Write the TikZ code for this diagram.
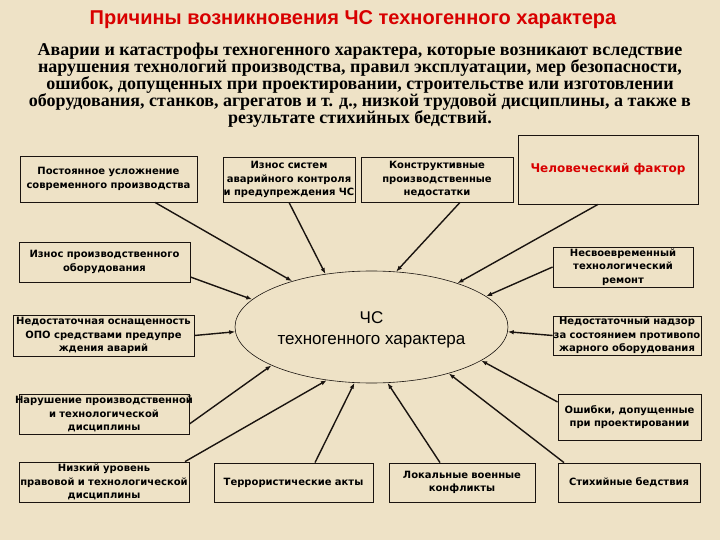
\documentclass[tikz,border=0pt]{standalone}
\usepackage{fontspec}
\setmainfont{Liberation Serif}
\setsansfont{Liberation Sans}
\newfontfamily\boxfont{DejaVu Sans}
\usetikzlibrary{positioning, arrows.meta, shapes.geometric}
\definecolor{clrpaper}{HTML}{EEE2C6}
\definecolor{clrtitle}{HTML}{D80000}
\definecolor{clrborder}{HTML}{1A1410}
\definecolor{clrtext}{HTML}{000000}
\newcommand{\wideline}[1]{\makebox[\linewidth][c]{#1}}

\begin{document}
\begin{tikzpicture}[
    x=1pt, y=-1pt,
    >=Latex,
    block/.style={draw=clrborder, line width=0.8pt, inner sep=0pt, align=center,
                  font=\boxfont\bfseries\fontsize{10}{13.5}\selectfont, text=clrtext},
    arrow/.style={-{Latex[length=6pt, width=4.5pt]}, line width=1.4pt, color=clrborder},
    hub/.style={ellipse, draw=clrborder, line width=0.6pt, minimum width=273pt,
                minimum height=112pt, inner sep=0pt},
    title/.style={font=\sffamily\bfseries\fontsize{20}{22}\selectfont, text=clrtitle},
    lead/.style={font=\rmfamily\bfseries\fontsize{18}{17}\selectfont, align=center, text=clrtext},
]
\fill[clrpaper] (0,0) rectangle (720,540);
\useasboundingbox (0,0) rectangle (720,540);
\node[title] (n_title) at (353,20) {Причины возникновения ЧС техногенного характера};
\node[lead] (n_lead) at (360,85) {Аварии и катастрофы техногенного характера, которые возникают вследствие\\
    нарушения технологий производства, правил эксплуатации, мер безопасности,\\
    ошибок, допущенных при проектировании, строительстве или изготовлении\\
    оборудования, станков, агрегатов и т. д., низкой трудовой дисциплины, а также в\\
    результате стихийных бедствий.};
% center
\node[hub] (cs) at (371.5,327) {};
\node[font=\sffamily\fontsize{17}{21}\selectfont, align=center, text=clrtext] (cs_text) at ([yshift=-3pt]cs.center) {ЧС\\техногенного характера};
% causes, top row
\node[block, text width=177pt, minimum height=46pt] (b_usl) at (108.5,179) {Постоянное усложнение\\современного производства};
\node[block, text width=132pt, minimum height=45pt] (b_avar) at (289,179.5) {Износ систем\\\wideline{аварийного контроля}\\\wideline{и предупреждения ЧС}};
\node[block, text width=152pt, minimum height=45pt] (b_konstr) at (437,179.5) {Конструктивные\\производственные\\недостатки};
\node[block, text width=180pt, minimum height=69pt, text=clrtitle, font=\boxfont\bfseries\fontsize{12}{14}\selectfont] (b_chel) at (608,169.5) {Человеческий фактор};
% left and right columns
\node[block, text width=171pt, minimum height=40pt] (b_iznos) at (104.5,262) {Износ производственного\\оборудования};
\node[block, text width=140pt, minimum height=40pt] (b_nesv) at (623,267) {Несвоевременный\\технологический\\ремонт};
\node[block, text width=181pt, minimum height=41pt] (b_osn) at (103.5,335.5) {\wideline{Недостаточная оснащенность}\\ОПО средствами предупре\\ждения аварий};
\node[block, text width=148pt, minimum height=39pt] (b_nadz) at (627,335.5) {Недостаточный надзор\\\wideline{за состоянием противопо}\\\wideline{жарного оборудования}};
\node[block, text width=170pt, minimum height=40pt] (b_narush) at (104,414) {\wideline{Нарушение производственной}\\и технологической\\дисциплины};
\node[block, text width=143pt, minimum height=46pt] (b_osh) at (629.5,417) {Ошибки, допущенные\\при проектировании};
% bottom row
\node[block, text width=170pt, minimum height=40pt] (b_nizk) at (104,482) {Низкий уровень\\\wideline{правовой и технологической}\\дисциплины};
\node[block, text width=159pt, minimum height=39pt] (b_terr) at (293.5,482.5) {Террористические акты};
\node[block, text width=146pt, minimum height=39pt] (b_lok) at (462,482.5) {Локальные военные\\конфликты};
\node[block, text width=142pt, minimum height=39pt] (b_stih) at (629,482.5) {Стихийные бедствия};
% arrows to the center
\draw[arrow] ([xshift=46.5pt]b_usl.south) -- (cs.150);
\draw[arrow] (b_avar.south) -- (cs.131);
\draw[arrow] ([xshift=23pt]b_konstr.south) -- (cs.66);
\draw[arrow] ([xshift=-10pt]b_chel.south) -- (cs.27);
\draw[arrow] (b_nesv.west) -- (cs.15);
\draw[arrow] ([yshift=-15pt]b_iznos.east) -- (cs.167);
\draw[arrow] (b_osn.east) -- (cs.182);
\draw[arrow] (b_nadz.west) -- (cs.358);
\draw[arrow] ([yshift=-10pt]b_narush.east) -- (cs.201);
\draw[arrow] ([yshift=15pt]b_osh.west) -- (cs.343);
\draw[arrow] ([xshift=81pt]b_nizk.north) -- (cs.230);
\draw[arrow] ([xshift=21.5pt]b_terr.north) -- (cs.253);
\draw[arrow] ([xshift=-22pt]b_lok.north) -- (cs.286);
\draw[arrow] ([xshift=-65pt]b_stih.north) -- (cs.329);
\end{tikzpicture}
\end{document}
